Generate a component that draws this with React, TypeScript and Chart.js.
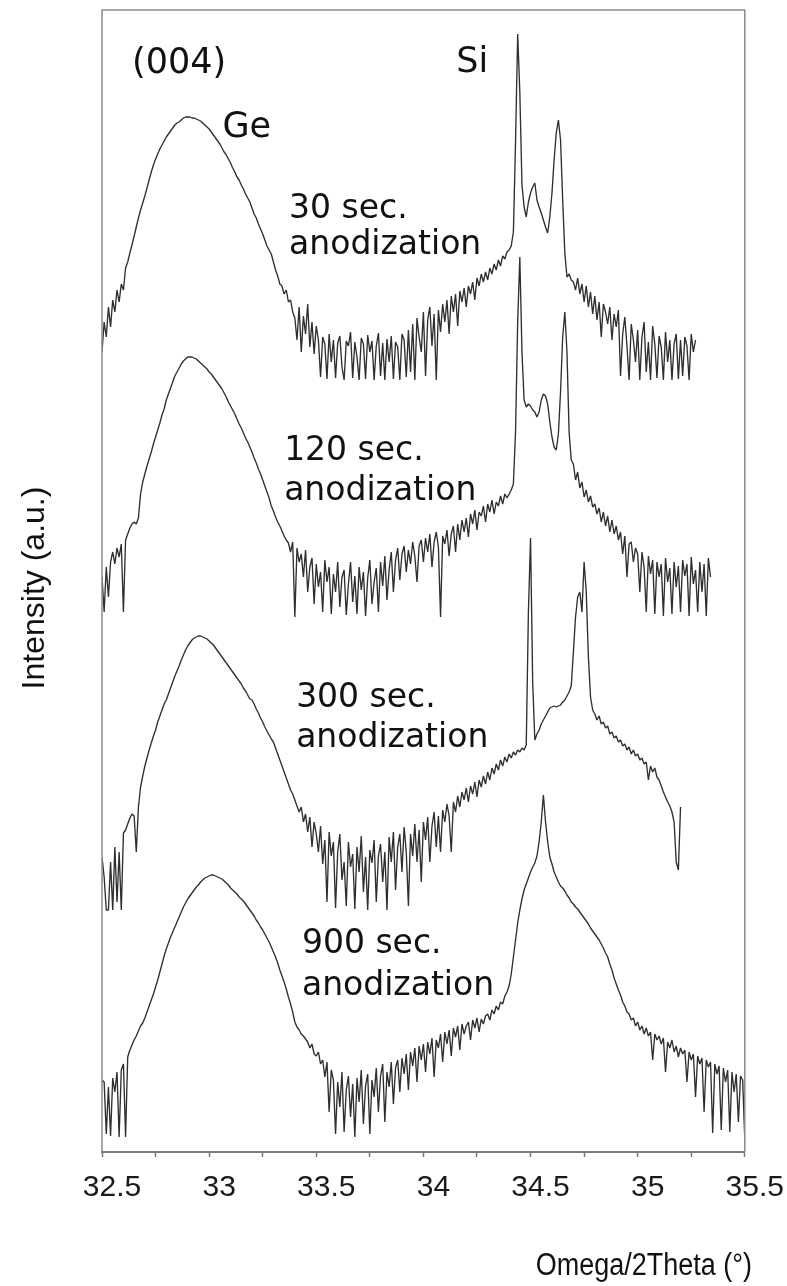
import { useEffect, useRef } from 'react';
import { Chart, registerables } from 'chart.js';

Chart.register(...registerables);

// Scan grid: Omega/2Theta (deg), regular 0.01 deg steps from 32.5
const SCAN_START = 32.5;
const SCAN_STEP = 0.01;

const xTickValues = [32.5, 32.75, 33, 33.25, 33.5, 33.75, 34, 34.25, 34.5, 34.75, 35, 35.25, 35.5];
const xTickLabels = ['32.5', '', '33', '', '33.5', '', '34', '', '34.5', '', '35', '', '35.5'];

// Intensities (a.u., traces stacked with offsets as in the figure)
const int30s = [
  800, 830, 815, 845, 825, 852, 840, 862, 850, 868,
  862, 884, 890, 899, 907, 916, 925, 934, 942, 949,
  956, 964, 972, 980, 987, 993, 998, 1003, 1007, 1011,
  1015, 1018, 1021, 1024, 1027, 1029, 1030, 1032, 1034, 1035,
  1035, 1035, 1034, 1034, 1033, 1032, 1031, 1029, 1027, 1025,
  1023, 1020, 1017, 1014, 1011, 1008, 1004, 1000, 997, 993,
  989, 984, 980, 975, 972, 967, 963, 958, 954, 950,
  944, 938, 934, 928, 923, 918, 912, 906, 902, 898,
  890, 882, 876, 868, 866, 858, 862, 850, 852, 840,
  834, 812, 845, 800, 836, 818, 848, 805, 830, 798,
  826, 812, 775, 815, 808, 773, 818, 790, 812, 774,
  809, 816, 785, 772, 811, 806, 820, 774, 810, 795,
  772, 814, 808, 773, 817, 800, 811, 772, 806, 819,
  776, 809, 772, 813, 790, 816, 773, 810, 805, 772,
  818, 812, 775, 822, 780, 828, 772, 834, 815, 800,
  840, 776, 832, 845, 806, 838, 772, 842, 820, 848,
  830, 852, 818, 856, 840, 858, 826, 861, 850, 864,
  845, 866, 858, 870, 852, 874, 866, 878, 870, 880,
  872, 884, 878, 888, 882, 892, 886, 896, 893, 900,
  902, 906, 920, 1010, 1118, 1060, 967, 945, 935, 950,
  959, 965, 969, 952, 945, 939, 932, 925, 919, 935,
  959, 992, 1019, 1032, 1012, 952, 899, 875, 878, 872,
  870, 862, 874, 858, 868, 850, 866, 845, 860, 838,
  856, 832, 850, 815, 848, 840, 828, 845, 812, 838,
  825, 842, 776, 818, 835, 806, 772, 828, 812, 790,
  822, 772, 815, 830, 780, 810, 772, 826, 808, 774,
  816, 805, 772, 820, 790, 812, 772, 808, 818, 773,
  812, 776, 815, 806, 772, 818, 800, 812,
];

const int120s = [
  575, 540, 585, 555, 590, 600, 588, 604, 595, 608,
  540, 612, 618, 624, 628, 630, 628, 634, 658, 670,
  678, 686, 693, 700, 708, 715, 722, 729, 737, 743,
  752, 758, 764, 770, 776, 780, 784, 788, 791, 793,
  795, 795, 795, 794, 793, 791, 789, 787, 785, 783,
  780, 778, 775, 772, 769, 766, 763, 759, 755, 750,
  746, 742, 738, 733, 728, 724, 719, 714, 710, 705,
  700, 694, 689, 683, 678, 672, 666, 660, 654, 646,
  641, 635, 630, 626, 621, 616, 612, 609, 600, 610,
  535, 604, 590, 598, 575, 602, 560, 585, 594, 548,
  588, 565, 580, 540, 592, 570, 585, 538, 578, 560,
  590, 545, 575, 582, 537, 568, 590, 550, 576, 538,
  585, 562, 580, 536, 574, 592, 548, 570, 584, 540,
  590, 566, 596, 552, 582, 600, 560, 592, 604, 572,
  598, 606, 580, 602, 588, 610, 596, 570, 606, 612,
  590, 614, 600, 618, 585, 610, 620, 605, 535, 616,
  608, 622, 596, 618, 626, 600, 628, 612, 632, 620,
  634, 615, 638, 628, 642, 622, 640, 636, 646, 630,
  648, 640, 652, 638, 650, 646, 656, 648, 658, 654,
  658, 662, 668, 720, 830, 895, 800, 752, 745, 748,
  746, 742, 740, 735, 740, 752, 758, 756, 748, 730,
  715, 705, 702, 718, 760, 815, 840, 800, 720, 692,
  688, 672, 680, 664, 670, 655, 662, 650, 656, 645,
  648, 638, 644, 630, 640, 626, 636, 620, 632, 618,
  626, 612, 620, 598, 616, 575, 608, 610, 590, 604,
  598, 560, 600, 585, 540, 596, 578, 592, 538, 590,
  575, 588, 536, 594, 570, 584, 538, 590, 565, 586,
  540, 592, 576, 588, 536, 595, 568, 582, 540, 590,
  560, 588, 536, 594, 575,
];

const int300s = [
  295, 275, 242, 242, 290, 242, 305, 250, 300, 242,
  319, 322, 328, 334, 338, 336, 300, 345, 365, 376,
  386, 394, 402, 409, 416, 422, 430, 436, 442, 448,
  452, 458, 464, 470, 476, 481, 486, 492, 497, 502,
  506, 509, 512, 514, 515, 516, 516, 515, 514, 513,
  511, 509, 507, 504, 501, 498, 495, 492, 489, 486,
  483, 480, 477, 474, 471, 468, 464, 461, 457, 453,
  452, 448, 443, 439, 434, 430, 425, 421, 417, 413,
  410, 404, 398, 392, 386, 380, 374, 368, 362, 358,
  352, 346, 340, 345, 330, 338, 320, 335, 305, 330,
  318, 300, 326, 288, 312, 250, 320, 296, 310, 244,
  300, 318, 272, 290, 246, 310, 285, 298, 243, 305,
  280, 316, 260, 295, 242, 302, 289, 312, 250, 296,
  308, 270, 300, 242, 315, 290, 320, 262, 305, 318,
  280, 325, 300, 246, 318, 296, 328, 290, 322, 270,
  330, 312, 335, 290, 326, 340, 305, 336, 300, 342,
  330, 348, 336, 300, 350, 340, 356, 345, 360, 352,
  364, 350, 366, 358, 370, 355, 372, 365, 376, 368,
  380, 372, 384, 378, 388, 382, 392, 386, 395, 390,
  398, 394, 400, 397, 402, 400, 404, 402, 407, 540,
  614, 470, 412, 418, 422, 428, 432, 436, 440, 444,
  445, 446, 445, 446, 447, 450, 452, 456, 460, 466,
  500, 535, 555, 560, 540, 590, 560, 495, 455, 442,
  438, 432, 436, 428, 430, 424, 426, 418, 420, 414,
  416, 410, 412, 406, 408, 402, 405, 398, 402, 396,
  398, 392, 394, 388, 390, 372, 386, 380, 384, 375,
  372, 366, 360, 355, 350, 346, 340, 330, 290, 282,
  345,
];

const int900s = [
  72, 70, 18, 65, 16, 74, 60, 80, 15, 82,
  88, 15, 95, 102, 107, 112, 116, 121, 126, 129,
  134, 140, 146, 152, 158, 165, 172, 180, 188, 196,
  203, 209, 215, 220, 225, 230, 235, 240, 245, 249,
  253, 256, 259, 262, 265, 267, 270, 272, 274, 275,
  276, 277, 277, 276, 275, 274, 273, 271, 269, 267,
  264, 262, 260, 258, 255, 253, 251, 248, 245, 242,
  239, 236, 232, 229, 225, 222, 218, 214, 210, 205,
  200, 195, 189, 182, 176, 170, 163, 155, 148, 140,
  130, 125, 122, 118, 116, 113, 110, 104, 108, 98,
  96, 100, 88, 92, 75, 90, 40, 82, 72, 18,
  70, 45, 80, 20, 62, 76, 35, 68, 15, 74,
  50, 82, 28, 66, 78, 18, 72, 55, 84, 40,
  76, 88, 30, 80, 65, 90, 48, 84, 92, 60,
  94, 78, 98, 62, 100, 86, 104, 70, 106, 92,
  108, 80, 110, 98, 114, 75, 112, 104, 118, 90,
  120, 108, 122, 96, 124, 115, 126, 102, 128, 118,
  126, 130, 112, 132, 124, 134, 120, 133, 128, 136,
  138, 132, 142, 138, 146, 142, 150, 148, 156, 160,
  166, 178, 195, 212, 229, 242, 253, 262, 268, 274,
  280, 285, 289, 296, 310, 330, 357, 330, 310, 295,
  288, 280, 275, 270, 266, 264, 261, 257, 254, 250,
  248, 245, 243, 240, 237, 234, 231, 228, 224, 221,
  218, 215, 212, 208, 204, 199, 195, 188, 182, 174,
  168, 162, 157, 150, 146, 140, 138, 132, 134, 126,
  130, 122, 126, 118, 124, 116, 120, 92, 118, 112,
  116, 108, 114, 80, 110, 104, 112, 100, 106, 95,
  104, 98, 102, 70, 100, 92, 98, 55, 96, 88,
  94, 40, 92, 85, 90, 19, 88, 78, 86, 22,
  84, 70, 82, 20, 80, 60, 78, 30, 76, 72,
  12,
];

const seriesLabels = ['30 sec. anodization', '120 sec. anodization', '300 sec. anodization', '900 sec. anodization'];
const seriesValues = [int30s, int120s, int300s, int900s];

// Text annotations, anchored in data coordinates (x in deg, y in a.u.)
const noteTexts = ['(004)', 'Si', 'Ge', '30 sec.', 'anodization', '120 sec.', 'anodization', '300 sec.', 'anodization', '900 sec.', 'anodization'];
const noteX = [32.64, 34.153, 33.062, 33.373, 33.373, 33.35, 33.35, 33.406, 33.406, 33.433, 33.433];
const noteY = [1079, 1080, 1015, 934, 898, 692, 652, 445, 405, 199, 157];

const Y_MAX = 1142;

export default function App() {
  const canvasRef = useRef<HTMLCanvasElement | null>(null);

  useEffect(() => {
    const canvas = canvasRef.current;
    if (!canvas) return;

    const frame = {
      id: 'frameAndText',
      afterDraw(chart: any) {
        const { ctx, chartArea: a } = chart;
        const xs = chart.scales.x;
        const ys = chart.scales.y;
        ctx.save();
        ctx.strokeStyle = '#8a8a8a';
        ctx.lineWidth = 1.5;
        ctx.beginPath();
        ctx.moveTo(a.left, a.bottom);
        ctx.lineTo(a.left, a.top);
        ctx.lineTo(a.right, a.top);
        ctx.lineTo(a.right, a.bottom);
        ctx.stroke();

        ctx.fillStyle = '#111';
        ctx.textAlign = 'left';
        ctx.textBaseline = 'alphabetic';
        noteTexts.forEach((t, i) => {
          const size = i < 3 ? 35 : 33;
          ctx.font = `${size}px "DejaVu Sans"`;
          ctx.fillText(t, xs.getPixelForValue(noteX[i]), ys.getPixelForValue(noteY[i]));
        });

        // y-axis title
        ctx.save();
        ctx.translate(35, 588);
        ctx.rotate(-Math.PI / 2);
        ctx.textAlign = 'center';
        ctx.textBaseline = 'middle';
        ctx.font = '32px "Liberation Sans", Arial, sans-serif';
        ctx.fillText('Intensity (a.u.)', 0, 0);
        ctx.restore();

        // x-axis title (slightly condensed, as in the figure)
        ctx.save();
        ctx.translate(752, 1275);
        ctx.scale(0.87, 1);
        ctx.textAlign = 'right';
        ctx.textBaseline = 'alphabetic';
        ctx.font = '31px "Liberation Sans", Arial, sans-serif';
        ctx.fillText('Omega/2Theta (°)', 0, 0);
        ctx.restore();
        ctx.restore();
      },
    };

    const chart = new Chart(canvas, {
      type: 'line',
      data: {
        datasets: seriesValues.map((vals, s) => ({
          label: seriesLabels[s],
          data: vals.map((v, i) => ({ x: SCAN_START + i * SCAN_STEP, y: v })),
          borderColor: '#2f2f2f',
          borderWidth: 1.35,
          borderJoinStyle: 'bevel' as const,
          pointRadius: 0,
          tension: 0,
          fill: false,
        })),
      },
      options: {
        responsive: false,
        animation: false,
        events: [],
        layout: { padding: { left: 102, right: 39, top: 10, bottom: 0 } },
        plugins: { legend: { display: false }, tooltip: { enabled: false } },
        scales: {
          x: {
            type: 'linear',
            min: 32.5,
            max: 35.5,
            afterFit: (s: any) => { s.height = 134; },
            afterBuildTicks: (s: any) => { s.ticks = xTickValues.map((v) => ({ value: v })); },
            ticks: {
              autoSkip: false,
              maxRotation: 0,
              minRotation: 0,
              labelOffset: 10,
              padding: 13,
              color: '#1a1a1a',
              font: { family: '"Liberation Sans", Arial, sans-serif', size: 30 },
              callback: (_v: any, idx: number) => xTickLabels[idx] ?? '',
            },
            grid: { drawOnChartArea: false, drawTicks: true, tickLength: 5, color: '#7a7a7a', tickWidth: 1.5 },
            border: { display: true, color: '#7a7a7a', width: 2 },
          },
          y: { type: 'linear', min: 0, max: Y_MAX, display: false },
        },
      },
      plugins: [frame],
    });

    return () => chart.destroy();
  }, []);

  return (
    <div style={{ position: 'absolute', left: 0, top: 0, width: 787, height: 1286, background: '#fff' }}>
      <canvas ref={canvasRef} width={787} height={1286} style={{ display: 'block', width: 787, height: 1286 }} />
    </div>
  );
}
